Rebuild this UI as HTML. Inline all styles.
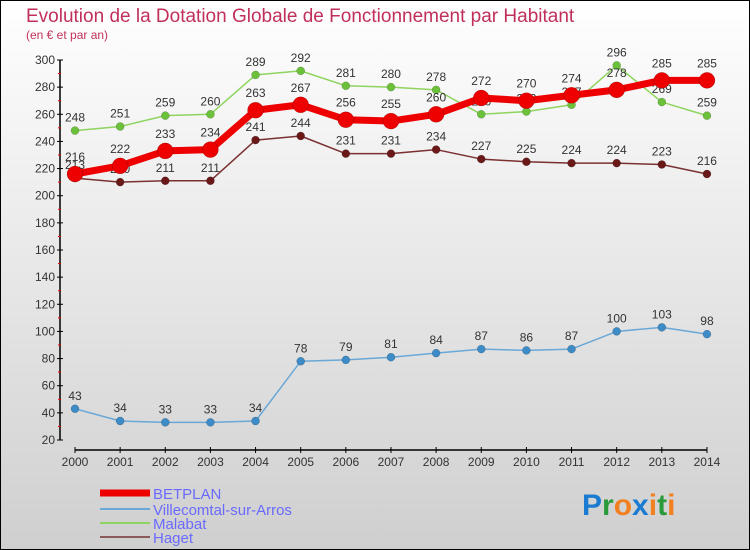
<!DOCTYPE html>
<html><head><meta charset="utf-8"><style>
body{margin:0;padding:0}
svg{display:block;font-family:"Liberation Sans",sans-serif}
</style></head><body>
<svg id="chart" width="750" height="550" xmlns="http://www.w3.org/2000/svg">
<defs><linearGradient id="bg" x1="0" y1="0" x2="0" y2="1"><stop offset="0" stop-color="#ffffff"/><stop offset="1" stop-color="#cfcfcf"/></linearGradient></defs>
<rect x="0.5" y="0.5" width="749" height="549" fill="url(#bg)" stroke="#000" stroke-width="1"/>
<text x="26" y="22" font-size="19" fill="#c0305a">Evolution de la Dotation Globale de Fonctionnement par Habitant</text>
<text x="26" y="39" font-size="12" fill="#c0305a">(en € et par an)</text>
<g id="axes"></g><g id="series"></g><g id="legend"></g>
<text x="582" y="515" font-size="30" font-weight="bold"><tspan fill="#1a7bd0">P</tspan><tspan fill="#2a9a3a">r</tspan><tspan fill="#f08020">o</tspan><tspan fill="#1a7bd0">x</tspan><tspan fill="#f08020">i</tspan><tspan fill="#2a9a3a">t</tspan><tspan fill="#f08020">i</tspan></text>
</svg>
<script>
const years=[2000,2001,2002,2003,2004,2005,2006,2007,2008,2009,2010,2011,2012,2013,2014];
const yTicks=[20,40,60,80,100,120,140,160,180,200,220,240,260,280,300];
const betplan=[216,222,233,234,263,267,256,255,260,272,270,274,278,285,285];
const villecomtal=[43,34,33,33,34,78,79,81,84,87,86,87,100,103,98];
const malabat=[248,251,259,260,289,292,281,280,278,260,262,267,296,269,259];
const haget=[213,210,211,211,241,244,231,231,234,227,225,224,224,223,216];
const NS="http://www.w3.org/2000/svg";
const X=y=>75+(y-2000)*45.14;
const Y=v=>440-(v-20)*(380/280);
function mk(tag,attrs,parent,text){const e=document.createElementNS(NS,tag);for(const k in attrs)e.setAttribute(k,attrs[k]);if(text!==undefined)e.textContent=text;parent.appendChild(e);return e;}
const axes=document.getElementById('axes');
let yl=mk('line',{x1:60,y1:Y(300),x2:60,y2:Y(20),stroke:'#000','stroke-width':1.5},axes);


yTicks.forEach(t=>{
 mk('line',{x1:57,y1:Y(t),x2:63,y2:Y(t),stroke:'#000'},axes);
 if(t<300) mk('line',{x1:58,y1:Y(t+10),x2:61,y2:Y(t+10),stroke:'#e00'},axes);
 let tx=mk('text',{x:55,y:Y(t)+4,'font-size':12,'text-anchor':'end',fill:'#333'},axes,t);
 
 
});
let xl=mk('line',{x1:X(2000),y1:450,x2:X(2014),y2:450,stroke:'#000','stroke-width':1.5},axes);


years.forEach(y=>{
 mk('line',{x1:X(y),y1:447,x2:X(y),y2:453,stroke:'#000'},axes);
 let tx=mk('text',{x:X(y),y:466,'font-size':12,'text-anchor':'middle',fill:'#333'},axes,y);
 
 
});
const ser=document.getElementById('series');
const specs=[
 {name:'malabat',data:malabat,color:'#8ed45e',dot:'#6cc13a',w:1.5,r:4},
 {name:'haget',data:haget,color:'#7a3030',dot:'#6a1818',w:1.5,r:4},
 {name:'villecomtal',data:villecomtal,color:'#6aa8d8',dot:'#3d8cc8',w:1.5,r:4},
 {name:'betplan',data:betplan,color:'#ee0000',dot:'#ee0000',w:7,r:8}
];
specs.forEach(s=>{
 const g=mk('g',{},ser);
 
 
 const pts=s.data.map((v,i)=>X(years[i])+','+Y(v)).join(' ');
 mk('polyline',{points:pts,fill:'none',stroke:s.color,'stroke-width':s.w,'stroke-linejoin':'round'},g);
 s.data.forEach((v,i)=>{
  const c=mk('circle',{cx:X(years[i]),cy:Y(v),r:s.r,fill:s.dot,stroke:'rgba(0,0,0,0.3)','stroke-width':0.5},g);
  
  
  const t=mk('text',{x:X(years[i]),y:Y(v)-s.r-5,'font-size':12,'text-anchor':'middle',fill:'#333'},g,v);
  
  
 });
});
const leg=document.getElementById('legend');
const items=[['BETPLAN','#ee0000',7,497],['Villecomtal-sur-Arros','#6aa8d8',2,513],['Malabat','#8ed45e',2,527],['Haget','#8a5a5a',2,541]];
items.forEach(it=>{
 const g=mk('g',{},leg);
 
 
 mk('line',{x1:100,y1:it[3]-4,x2:150,y2:it[3]-4,stroke:it[1],'stroke-width':it[2]},g);
 mk('text',{x:153,y:it[3]+2,'font-size':15,fill:'#6a6aff'},g,it[0]);
});
</script>
</body></html>
